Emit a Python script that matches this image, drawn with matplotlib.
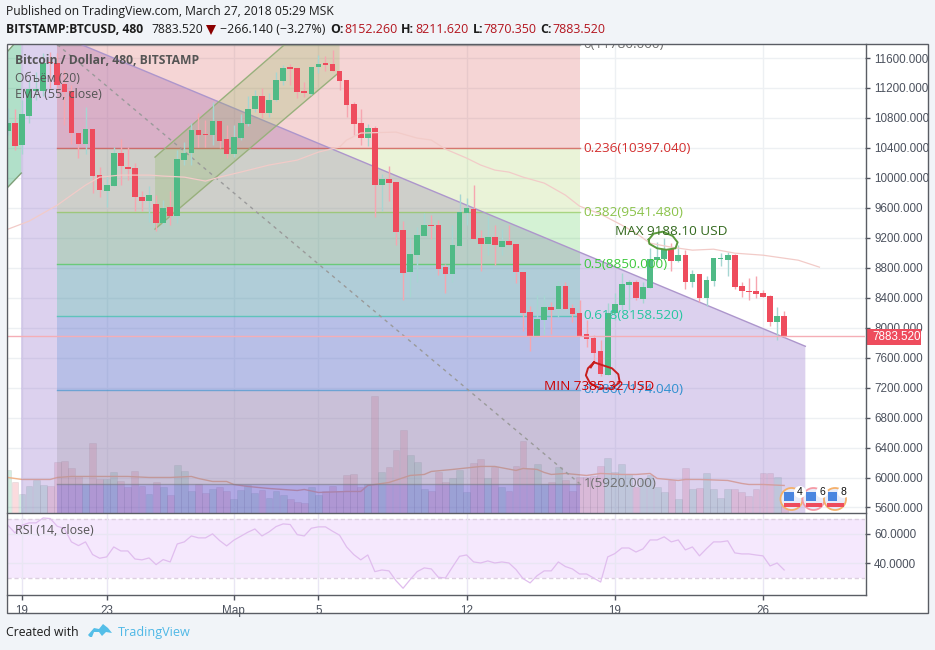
import matplotlib
matplotlib.use("Agg")
import matplotlib.pyplot as plt
from matplotlib.patches import Rectangle, Polygon, Circle
import numpy as np

W, H = 935, 650
# ---------- OHLC, one value per 8h bar, first bar is two bars before the "19" tick
opens = [10625,10732,10438,10825,11159,11159,11547,11533,11253,11159,10598,10451,10651,10037,9823,9890,10331,10144,10130,9743,
         9690,9650,9396,9609,9489,10237,10331,10638,10585,10571,10758,10518,10317,10531,10718,10919,11092,10865,11039,11293,
         11480,11467,11159,11119,11480,11533,11520,11426,11306,10986,10732,10531,10665,9903,9983,9943,9302,8741,8968,9222,
         9369,9369,8808,8714,9088,9529,9583,9195,9115,9209,9075,9155,9115,8741,8206,7886,8100,8273,8246,8554,
         8260,8193,7912,7859,7685,7364,8193,8300,8567,8607,8380,8527,8901,8915,9048,8888,8968,8607,8714,8393,
         8621,8915,8901,8968,8554,8487,8487,8460,8420,8073,8153]
highs = [10932,10919,11039,11306,11413,11667,11680,11667,11440,11239,10598,10945,10651,10144,10037,10411,10518,10411,10197,9823,
         9890,9770,9703,9823,10371,10478,10732,10865,10772,11012,10758,10705,10705,10852,11092,11173,11199,11133,11413,11507,
         11520,11467,11280,11480,11640,11627,11707,11426,11306,11012,10919,10718,10692,10050,10157,9943,9422,9195,9342,9529,
         9503,9436,8848,9369,9783,9730,9903,9302,9489,9369,9315,9369,9115,8741,8287,8434,8434,8340,8621,8607,
         8313,8367,8100,7899,7832,8327,8460,8728,8634,8634,8607,9062,9142,9195,9128,9102,9035,8768,8714,8687,
         8928,8995,9008,8981,8607,8661,8687,8500,8434,8273,8220]
lows = [10571,10371,10317,10732,11039,11092,11199,11173,10705,10451,10264,10317,9796,9743,9609,9890,9903,9970,9556,9556,
        9409,9289,9369,9369,9396,10171,10171,10411,10411,10438,10398,10264,10277,10505,10692,10879,10798,10812,11026,11239,
        11239,11066,11079,11106,11400,11426,11426,11173,10812,10571,10438,10424,9476,9556,9690,9102,8367,8407,8607,9222,
        9182,8701,8460,8607,9088,9369,9182,8754,8968,8834,8968,9102,8594,7952,7685,7886,7899,7912,8140,8246,
        8073,7886,7739,7538,7350,7364,8100,8233,8233,8367,8327,8527,8875,8915,8754,8875,8514,8540,8340,8287,
        8554,8821,8687,8514,8407,8367,8393,8407,8019,7832,7872]
closes = [10732,10424,10852,11186,11186,11533,11533,11239,11146,10598,10451,10651,10024,9837,9903,10331,10157,10117,9743,9690,
          9770,9396,9596,9489,10251,10331,10638,10571,10571,10758,10491,10317,10545,10732,10919,11092,10865,11039,11306,11467,
          11453,11146,11133,11480,11520,11507,11426,11293,10972,10718,10531,10665,9903,9983,9930,9275,8728,8981,9235,9369,
          9356,8781,8714,9102,9543,9596,9182,9115,9209,9102,9155,9102,8741,8193,7886,8113,8273,8233,8554,8246,
          8180,7886,7846,7659,7378,8193,8313,8581,8607,8393,8540,8915,8941,9048,8888,8968,8607,8714,8393,8634,
          8928,8928,8968,8540,8487,8474,8447,8407,8073,8153,7884]
volumes = [42,30,18,26,32,27,26,50,51,44,36,28,69,33,33,40,31,25,41,26,
           18,30,25,17,47,41,21,28,19,23,25,21,13,22,27,19,22,14,21,17,
           13,10,9,25,17,21,26,21,37,38,25,28,116,40,45,62,82,57,50,23,
           21,40,30,34,42,20,49,53,34,45,25,21,46,71,44,48,28,30,45,32,
           21,35,35,36,46,54,40,48,38,25,33,37,25,20,32,13,44,23,24,39,
           23,14,23,23,20,16,23,39,39,35,6]
rsi = [65.6,60.4,65.6,67.2,67.2,70.5,70.1,64.9,63.4,54.4,51.9,54.4,45.9,43.4,44.3,51.0,48.3,48.3,42.9,42.3,
       43.6,39.1,42.5,40.9,53.0,54.4,58.4,57.1,57.1,59.8,55.3,51.7,55.5,58.2,60.9,63.1,58.4,61.1,64.7,66.5,
       66.1,59.3,58.4,63.6,64.5,64.5,61.6,58.9,51.0,45.9,42.3,45.6,34.4,35.5,34.9,28.3,23.2,29.0,34.4,36.9,
       36.2,30.6,30.1,37.5,44.7,45.6,40.9,40.2,41.6,40.2,40.9,40.2,35.8,29.7,26.8,31.7,34.9,34.9,40.9,37.8,
       36.2,32.8,32.8,30.1,27.4,44.3,46.5,50.3,50.3,47.6,49.7,55.7,55.7,57.8,54.4,55.7,49.0,51.0,45.0,49.9,
       54.4,54.4,55.1,47.0,46.3,46.3,45.6,45.0,38.2,40.2,35.5]
ema_bar = [-2,1,5,7,9,11,14,18,20,23,26,28,31,35,39,42,45,46,48,53,56,58,60,63,65,67,69,71,74,75,77,79,82,85,87,89,92,95,98,101,105,110,113]
ema_val = [9315,9422,9636,9770,9903,10010,10037,10037,10024,10010,9957,10010,10077,10171,10237,10344,10411,10505,10598,10611,
           10531,10505,10384,10264,10171,10104,10077,10010,9930,9877,9770,9623,9516,9369,9262,9128,9075,9035,9048,8995,8968,8901,8808]
vma_bar = [-2,0,4,5,7,15,18,21,24,25,27,29,30,32,35,39,40,42,46,48,49,52,55,57,58,61,65,67,70,71,73,74,75,77,80,82,85,87,89,90,93,94,96,100,102,103,105,108]
vma_val = [35,33,33,35,36,36,35,35,36,34,31,31,28,26,24,22,23,20,21,21,27,30,37,38,41,43,46,46,42,44,43,40,38,39,37,39,38,38,39,34,32,33,33,32,29,28,28,27]

fib_levels = [0, 0.236, 0.382, 0.5, 0.618, 0.786, 1]
fib_prices = [11780.0, 10397.04, 9541.48, 8850.0, 8158.52, 7174.04, 5920.0]
fib_colors = ["#808080", "#d32f2f", "#8bc34a", "#3cc83c", "#26c6a0", "#3090d0", "#808080"]
fib_fills = [(.82,.18,.18,.2), (.59,.78,.24,.2), (.27,.78,.27,.23), (0,.74,.5,.2), (.16,.47,.8,.2), (.5,.5,.5,.2), (.2,.2,.78,.25)]
fib_start, fib_end = 5, 79
LAST = 7883.52

price_ticks = list(range(5600, 11601, 400))
time_ticks = [0, 12, 30, 42, 63, 84, 105]
time_labels = ["19", "23", "Мар", "5", "12", "19", "26"]

BG = "#F1F4F8"
RED, GREEN = "#EE4C5D", "#50BA86"
RED_W, GREEN_W = "#F6A6B0", "#A6D6D2"
GRID = "#EDF0F3"
AX_TXT = "#4C525E"
HEAD = ["Open Sans", "DejaVu Sans"]
ARIAL = ["Liberation Sans", "DejaVu Sans"]

fig = plt.figure(figsize=(W/100, H/100), dpi=100, facecolor=BG)
def rect(l, t, r, b):
    return [l/W, 1-b/H, (r-l)/W, (b-t)/H]

xlim = ((7-22)/7.057, (865-22)/7.057)
ylim = (5533, 11787)

# volume underlay
axv = fig.add_axes(rect(7, 44, 865, 512.5), zorder=1, facecolor="white")
idx = np.arange(len(closes)) - 2
up = np.array(closes) >= np.array(opens)
axv.bar(idx, volumes, width=0.97, color=[(.31,.73,.53,.24) if u else (.93,.30,.36,.20) for u in up],
        edgecolor=(.4,.4,.4,.12), linewidth=.6)
axv.plot(vma_bar, vma_val, color="#F2B48A", lw=1)
axv.set_xlim(xlim); axv.set_ylim(0, 468)
axv.set_xticks(time_ticks)
axv.set_yticks([(p-ylim[0])/(ylim[1]-ylim[0])*468 for p in price_ticks])
axv.grid(True, color=GRID, lw=1); axv.set_axisbelow(True)
axv.tick_params(length=0, labelbottom=False, labelleft=False)
for s in axv.spines.values(): s.set_visible(False)

# main pane
ax = fig.add_axes(rect(7, 44, 865, 512.5), zorder=2)
ax.patch.set_visible(False)
ax.set_xlim(xlim); ax.set_ylim(ylim)

# left channel remnant
ax.add_patch(Polygon([(-2.13,11680),(-1.1,11787),(-0.1,11787),(-0.1,10064),(-2.13,9863)], closed=True, fc=(.24,.70,.47,.4), ec="none", zorder=1))
ax.plot([-2.13,-1.1],[11680,11787], color="#7f9f78", lw=1, zorder=1.5)
ax.plot([-2.13,-0.1],[9863,10064], color="#7f9f78", lw=1, zorder=1.5)

# descending wedge
wedge_x = [-0.14, 111, 111, -0.14]
wedge_y = [12115, 7752, 5000, 5000]
ax.add_patch(Polygon(list(zip(wedge_x, wedge_y)), closed=True, fc=(.584,.459,.804,.33), ec="none", zorder=1))
ax.plot(wedge_x[:2], wedge_y[:2], color="#AD96CC", lw=1, zorder=1.4)

# fibonacci zones
for k in range(len(fib_prices)):
    top = fib_prices[k]
    bot = fib_prices[k+1] if k+1 < len(fib_prices) else ylim[0]
    ax.add_patch(Rectangle((fib_start, bot), fib_end-fib_start, top-bot, fc=fib_fills[k], ec="none", zorder=1.2))
    ax.plot([fib_start, fib_end], [top, top], color=fib_colors[k], alpha=.6, lw=1, zorder=1.3)

# rising channel
ax.add_patch(Polygon([(18.85,10277),(45,12416),(45,11413),(18.85,9316)], closed=True, fc=(.5,.72,.3,.22), ec="none", zorder=1.5))
ax.plot([18.85,45],[10277,12416], color="#98B07C", lw=1, zorder=1.6)
ax.plot([18.85,45],[9316,11413], color="#98B07C", lw=1, zorder=1.6)

# fib trend line
ax.plot([fib_start, fib_end], [fib_prices[0], fib_prices[-1]], color="#9a9a9a", lw=1, ls=(0,(2.5,3)), zorder=1.7)

# candles
ax.vlines(idx, lows, highs, colors=[GREEN_W if u else RED_W for u in up], lw=1, zorder=3)
o, c = np.array(opens), np.array(closes)
ax.bar(idx, np.abs(c-o), bottom=np.minimum(o,c), width=0.8, color=[GREEN if u else RED for u in up], linewidth=0, zorder=3.2)

# EMA and last price
ax.plot(ema_bar, ema_val, color="#F2CBC8", lw=0.9, zorder=3.3)
ax.plot(xlim, [LAST, LAST], color="#F5AEB6", lw=1, zorder=3.3)

# hand drawn marks
blob_bar = [81.05,80.2,79.9,80.5,81.9,83.6,84.7,84.5,83.6,82.3,81.05,80.6]
blob_val = [7538,7458,7364,7258,7191,7191,7271,7378,7458,7498,7538,7470]
ax.plot(blob_bar, blob_val, color="#C81E1E", lw=1.4, zorder=4)
loop_bar = [88.8,89.5,90.8,92.2,92.9,92.6,91.3,90,88.9,88.8]
loop_val = [9175,9255,9282,9225,9140,9060,9040,9060,9120,9175]
ax.plot(loop_bar, loop_val, color="#5A9A3C", lw=1.4, zorder=4)

# fib labels
for lv, pr, col in zip(fib_levels, fib_prices, fib_colors):
    lab = f"{lv}({pr:.3f})"
    ax.text(fib_end+0.55, pr, lab, color=col if lv != 0 and lv != 1 else "#707070", fontsize=9.7,
            family=HEAD, va="center", ha="left", zorder=5, clip_on=True)
ax.text(84.0, 9280, "MAX 9188.10 USD", color="#33691E", fontsize=9.7, family=HEAD, va="center", zorder=5)
ax.text(74, 7220, "MIN 7385.32 USD", color="#CC0000", fontsize=9.7, family=HEAD, va="center", zorder=5)

ax.set_yticks(price_ticks); ax.set_yticklabels([f"{p:.3f}" for p in price_ticks])
ax.yaxis.tick_right()
ax.tick_params(axis="y", length=3.5, width=1, color="#50535E", labelcolor=AX_TXT, labelsize=8.4, pad=3)
for t in ax.get_yticklabels(): t.set_family(ARIAL)
ax.set_xticks([])
for s in ax.spines.values(): s.set_visible(False)

# RSI pane
axr = fig.add_axes(rect(7, 513.5, 865, 594.5), zorder=2, facecolor="white")
axr.set_xlim(xlim); axr.set_ylim(19, 73.5)
axr.axhspan(30, 70, color="#F5E8FD", lw=0, zorder=0)
axr.axhline(70, color="#DCCFE0", lw=1, ls=(0,(3,2)), zorder=1)
axr.axhline(30, color="#DCCFE0", lw=1, ls=(0,(3,2)), zorder=1)
axr.set_yticks([40, 60]); axr.set_yticklabels(["40.0000", "60.0000"])
axr.yaxis.tick_right()
axr.set_xticks(time_ticks); axr.set_xticklabels(time_labels)
axr.grid(True, color="#E9E6F3", lw=1); axr.set_axisbelow(False)
axr.plot(idx, rsi, color="#E0BDEE", lw=0.9, zorder=3)
axr.tick_params(axis="y", length=3.5, width=1, color="#50535E", labelcolor=AX_TXT, labelsize=8.4, pad=3)
axr.tick_params(axis="x", length=3.5, width=1, color="#50535E", labelcolor=AX_TXT, labelsize=8.4, pad=4)
for t in axr.get_yticklabels() + axr.get_xticklabels(): t.set_family(ARIAL)
for s in axr.spines.values(): s.set_visible(False)

# overlay in pixel space for the page furniture
ov = fig.add_axes([0, 0, 1, 1], zorder=10)
ov.set_xlim(0, W); ov.set_ylim(H, 0); ov.axis("off")
ov.patch.set_visible(False)
bgov = fig.add_axes([0, 0, 1, 1], zorder=0)
bgov.set_xlim(0, W); bgov.set_ylim(H, 0); bgov.axis("off")
bgov.add_patch(Rectangle((6, 43.5), 922, 569.5, fc="white", ec="none"))

FR = "#5A5D64"
ov.add_patch(Rectangle((6.5, 43.5), 921.5, 569.5, fc="none", ec=FR, lw=1.0))
ov.plot([865.5, 865.5], [43.5, 594.5], color=FR, lw=1.0)
ov.plot([6.5, 865.5], [594.5, 594.5], color=FR, lw=1.0)
ov.plot([6.5, 865.5], [513, 513], color=FR, lw=1.0)

# last price tag
ov.add_patch(Rectangle((866, 329), 55, 15.5, fc="#EE4C5D", ec="none"))
ov.text(872, 337, f"{LAST:.3f}", color="white", fontsize=8.4, family=ARIAL, va="center", ha="left")

# legend texts
ov.text(15, 60, "Bitcoin / Dollar, 480, BITSTAMP", color="#555555", fontsize=8.75, family=HEAD, weight="bold", va="center")
ov.text(15, 78, "Объём (20)", color="#555555", fontsize=8.7, family=HEAD, va="center")
ov.text(15, 95, "EMA (55, close)", color="#555555", fontsize=8.9, family=HEAD, va="center")
ov.text(15, 530.5, "RSI (14, close)", color="#555555", fontsize=8.9, family=HEAD, va="center")

# header
TXT = "#1C1C1C"
ov.text(6, 11, "Published on TradingView.com, March 27, 2018 05:29 MSK", color=TXT, fontsize=8.75, family=HEAD, va="center")
ov.text(6, 29.5, "BITSTAMP:BTCUSD, 480", color=TXT, fontsize=8.7, family=HEAD, weight="bold", va="center")
ov.text(151, 29.5, "7883.520", color=TXT, fontsize=8.75, family=HEAD, va="center")
ov.add_patch(Polygon([(206,25),(216,25),(211,35)], closed=True, fc="#8B0000", ec="none"))
ov.text(220, 29.5, "−266.140 (−3.27%)", color=TXT, fontsize=8.9, family=HEAD, va="center")
for x, s, xv, v in [(330,"O:",344,"8152.260"),(401,"H:",415,"8211.620"),(472.5,"L:",483,"7870.350"),(540,"C:",552,"7883.520")]:
    ov.text(x, 29.5, s, color=TXT, fontsize=8.9, family=HEAD, weight="bold", va="center")
    ov.text(xv, 29.5, v, color="#B3141E", fontsize=9.0, family=HEAD, va="center")

# footer
ov.text(6, 632.5, "Created with", color=TXT, fontsize=8.8, family=HEAD, va="center")
ov.add_patch(Polygon([(88,635),(94,628),(99,629),(103,624),(108,628),(112,633),(106,632),(102,636),(99,632),(94,632),(92,637),(90,637)],
                     closed=True, fc="#54BEE8", ec="none"))
ov.text(118, 632.5, "TradingView", color="#4FB8E6", fontsize=9.1, family=HEAD, va="center")

# event badges
for cx, ring, n in [(791.5, "#F5B06A", "4"), (813.5, "#F59AA5", "6"), (835, "#F5B06A", "8")]:
    cy = 499
    ov.add_patch(Circle((cx, cy), 11, fc="#E8ECF8", ec=ring, lw=1.3, zorder=5))
    ov.add_patch(Rectangle((cx-8, cy+3.5), 16.5, 4, fc="#EE4C5D", ec="none", zorder=6))
    ov.add_patch(Rectangle((cx-7.5, cy-7), 9.5, 9, fc="#4A86E0", ec="none", zorder=6))
    ov.add_patch(Circle((cx+8.5, cy-7), 6, fc="white", ec="none", zorder=7))
    ov.text(cx+8.5, cy-7, n, color="#111111", fontsize=7.5, family=ARIAL, ha="center", va="center", zorder=8)

fig.savefig("out.png", dpi=100, facecolor=BG)
